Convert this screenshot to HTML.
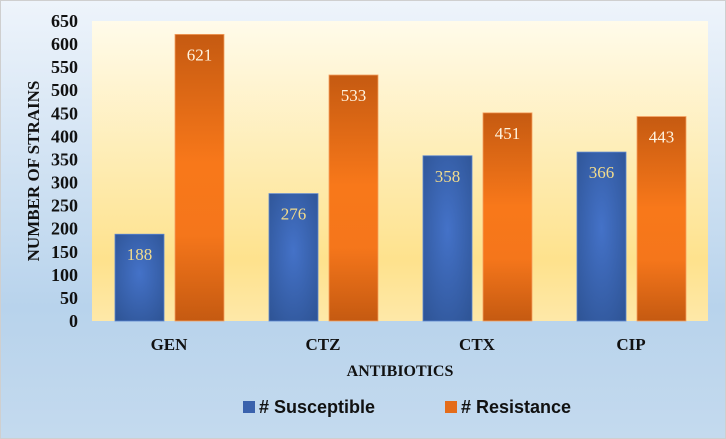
<!DOCTYPE html>
<html><head><meta charset="utf-8"><style>
html,body{margin:0;padding:0;width:726px;height:439px;overflow:hidden;background:#fff}
</style></head><body>
<svg width="726" height="439" xmlns="http://www.w3.org/2000/svg">
<defs>
<linearGradient id="bg" x1="0" y1="0" x2="0" y2="1"><stop offset="0" stop-color="#eef4fb"/><stop offset="0.7" stop-color="#b8d3ec"/><stop offset="1" stop-color="#c4daee"/></linearGradient>
<linearGradient id="pl" x1="0" y1="0" x2="0" y2="1"><stop offset="0" stop-color="#fffbea"/><stop offset="0.8" stop-color="#fee28d"/><stop offset="1" stop-color="#fee8a8"/></linearGradient>
<linearGradient id="or" x1="0" y1="0" x2="0" y2="1"><stop offset="0" stop-color="#c55a11"/><stop offset="0.45" stop-color="#f8781a"/><stop offset="0.7" stop-color="#f5761b"/><stop offset="1" stop-color="#c55a11"/></linearGradient>
<radialGradient id="bl" cx="0.5" cy="0.45" r="0.7"><stop offset="0" stop-color="#4472c8"/><stop offset="1" stop-color="#2f5597"/></radialGradient>
</defs>
<rect x="0.5" y="0.5" width="725" height="438" fill="url(#bg)" stroke="#cfcfcf"/>
<rect x="92" y="21" width="616" height="300" fill="url(#pl)"/>
<g id="yaxis"></g>
<g id="bars"></g>
<g id="xaxis"></g>
<text x="39" y="171" transform="rotate(-90 39 171)" text-anchor="middle" font-family="Liberation Serif, serif" font-weight="bold" font-size="17" fill="#111">NUMBER OF STRAINS</text>
<text x="400" y="376" text-anchor="middle" font-family="Liberation Serif, serif" font-weight="bold" font-size="16" fill="#111">ANTIBIOTICS</text>
<g>
<g><rect x="243" y="401" width="12" height="12" fill="#3a62ad"/><text x="259" y="413" font-family="Liberation Sans, sans-serif" font-weight="bold" font-size="18" fill="#111">#  Susceptible</text></g>
<g><rect x="445" y="401" width="12" height="12" fill="#e46c1a"/><text x="461" y="413" font-family="Liberation Sans, sans-serif" font-weight="bold" font-size="18" fill="#111">#  Resistance</text></g>
</g>
</svg>
<script>
const categories=["GEN","CTZ","CTX","CIP"];
const susceptible=[188,276,358,366];
const resistance=[621,533,451,443];
const yTicks=[0,50,100,150,200,250,300,350,400,450,500,550,600,650];
const NS='http://www.w3.org/2000/svg';
const x0=92,x1=708,y0=321,y1=21,yMax=650;
const y=v=>y0-(v/yMax)*(y0-y1);
const band=(x1-x0)/categories.length;
const cx=i=>x0+band*(i+0.5);
function mk(tag,attrs,parent,txt){const e=document.createElementNS(NS,tag);for(const k in attrs)e.setAttribute(k,attrs[k]);if(txt!==undefined)e.textContent=txt;parent.appendChild(e);return e;}
const ya=document.getElementById('yaxis'),bars=document.getElementById('bars'),xa=document.getElementById('xaxis');
yTicks.forEach(t=>{const e=mk('text',{x:78,y:y(t)+6,'text-anchor':'end','font-family':'Liberation Serif, serif','font-weight':'bold','font-size':'18',fill:'#111'},ya,String(t));

});
categories.forEach((c,i)=>{
const l=mk('text',{x:cx(i),y:350,'text-anchor':'middle','font-family':'Liberation Serif, serif','font-weight':'bold','font-size':'17',fill:'#111'},xa,c);


const bw=49;
const sx=cx(i)-54, rx=cx(i)+6;
const s=mk('rect',{x:sx,y:y(susceptible[i]),width:bw,height:y0-y(susceptible[i]),fill:'url(#bl)',stroke:'#5b85cf','stroke-width':'0.8'},bars);


const r=mk('rect',{x:rx,y:y(resistance[i]),width:bw,height:y0-y(resistance[i]),fill:'url(#or)',stroke:'#f4a060','stroke-width':'0.8'},bars);


const sl=mk('text',{x:sx+bw/2,y:y(susceptible[i])+26,'text-anchor':'middle','font-family':'Liberation Serif, serif','font-size':'17',fill:'#f3dc8c'},bars,String(susceptible[i]));


const rl=mk('text',{x:rx+bw/2,y:y(resistance[i])+26,'text-anchor':'middle','font-family':'Liberation Serif, serif','font-size':'17',fill:'#fff4e0'},bars,String(resistance[i]));


});
</script>
</body></html>
